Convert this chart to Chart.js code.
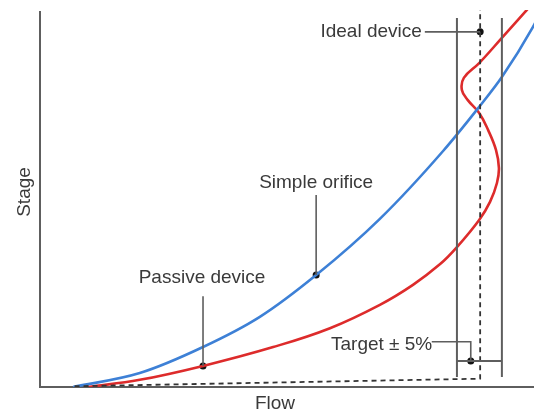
<!DOCTYPE html>
<html>
<head>
<meta charset="utf-8">
<script src="https://cdn.jsdelivr.net/npm/chart.js@4.4.6/dist/chart.umd.js"></script>
<style>
  html, body { margin: 0; padding: 0; background: #fff; }
  #wrap { width: 534px; height: 414px; position: relative; }
</style>
</head>
<body>
<div id="wrap"><canvas id="stageChart"></canvas></div>
<script>
// Values (flow and stage both on a 0-100 scale)
const orificeFlow = [6.7, 20.2, 33.0, 44.5, 55.9, 68.8, 81.6, 88.9, 93.5, 99.8, 101.2];
const orificeStage = [0, 3.7, 10.6, 18.6, 29.7, 44.6, 62.6, 74.3, 82.2, 95.5, 99.1];

const passiveFlow = [9.7, 20.2, 33.0, 47.2, 58.7, 68.8, 75.5, 81.0, 84.4, 88.9, 91.1, 92.5, 92.9, 92.3, 90.7, 88.9, 86.6, 85.4, 85.8, 88.9, 93.5, 98.2, 100.2];
const passiveStage = [0, 1.9, 5.6, 10.6, 15.6, 21.8, 27.1, 32.6, 37.1, 44.3, 49.1, 54.1, 58.1, 62.9, 68.2, 72.7, 76.1, 78.8, 82.0, 85.9, 92.6, 99.5, 102.5];

const idealFlow = [7.0, 89.1, 89.1];
const idealStage = [0.2, 2.2, 101];

const bandFlow = [84.4, 93.5];      // target -5% / +5%
const bandStage = [2.65, 97.9];
const targetFlow = 87.2;
const targetStage = 6.9;

const labels = ['Ideal device', 'Simple orifice', 'Passive device', 'Target \u00b1 5%'];
const labelFlow = [77.3, 55.9, 32.8, 79.4];
const labelStage = [94.2, 54.1, 28.9, 11.1];
const labelAlign = ['right', 'center', 'center', 'right'];

const markerFlow = [89.1, 55.9, 33.0, targetFlow];
const markerStage = [94.2, 29.7, 5.6, targetStage];

const ink = '#3a3a3a';
const rule = '#5e5e5e';
const blue = '#3d80d6';
const red = '#dd2b2b';
const font = '"Liberation Sans", Arial, sans-serif';

const pts = (xs, ys) => xs.map((x, i) => ({ x, y: ys[i] }));

const line = (data, color, width, extra = {}) => ({
  data,
  showLine: true,
  borderColor: color,
  borderWidth: width,
  pointRadius: 0,
  tension: 0,
  fill: false,
  ...extra
});

const datasets = [
  // target band
  line(pts([bandFlow[0], bandFlow[0]], bandStage), rule, 2),
  line(pts([bandFlow[1], bandFlow[1]], bandStage), rule, 2),
  line(pts(bandFlow, [targetStage, targetStage]), rule, 2),
  // leaders
  line(pts([77.9, markerFlow[0]], [labelStage[0], markerStage[0]]), rule, 1.6),
  line(pts([markerFlow[1], markerFlow[1]], [50.9, markerStage[1]]), rule, 1.6),
  line(pts([markerFlow[2], markerFlow[2]], [24.1, markerStage[2]]), rule, 1.6),
  line(pts([79.3, targetFlow, targetFlow], [12.0, 12.0, targetStage]), rule, 1.6),
  // ideal device
  line(pts(idealFlow, idealStage), '#333', 1.8, { borderDash: [5, 4] }),
  // curves
  line(pts(orificeFlow, orificeStage), blue, 2.6, { cubicInterpolationMode: 'monotone' }),
  line(pts(passiveFlow, passiveStage), red, 2.6, { tension: 0.4 }),
  // markers
  {
    data: pts(markerFlow, markerStage),
    showLine: false,
    pointRadius: 3.5,
    pointBackgroundColor: '#111',
    pointBorderWidth: 0
  }
];

const decor = {
  id: 'decor',
  beforeDatasetsDraw(chart) {
    const { ctx, chartArea: a } = chart;
    ctx.save();
    ctx.strokeStyle = rule;
    ctx.lineWidth = 2;
    ctx.beginPath();
    ctx.moveTo(a.left, a.top + 1);
    ctx.lineTo(a.left, a.bottom);
    ctx.lineTo(a.right, a.bottom);
    ctx.stroke();

    ctx.fillStyle = ink;
    ctx.font = `19px ${font}`;
    ctx.textBaseline = 'middle';
    ctx.textAlign = 'center';
    ctx.fillText('Flow', 275, 404);
    ctx.translate(25, 192);
    ctx.rotate(-Math.PI / 2);
    ctx.fillText('Stage', 0, 0);
    ctx.restore();
  },
  afterDatasetsDraw(chart) {
    const { ctx, scales: { x, y } } = chart;
    ctx.save();
    ctx.fillStyle = ink;
    ctx.font = `19px ${font}`;
    ctx.textBaseline = 'middle';
    labels.forEach((text, i) => {
      ctx.textAlign = labelAlign[i];
      ctx.fillText(text, x.getPixelForValue(labelFlow[i]), y.getPixelForValue(labelStage[i]));
    });
    ctx.restore();
  }
};

new Chart(document.getElementById('stageChart'), {
  type: 'scatter',
  data: { datasets },
  options: {
    responsive: true,
    maintainAspectRatio: false,
    animation: false,
    layout: { autoPadding: false, padding: { left: 40, right: 0, top: 10, bottom: 27 } },
    scales: {
      x: { type: 'linear', min: 0, max: 100, display: false },
      y: { type: 'linear', min: 0, max: 100, display: false }
    },
    plugins: {
      legend: { display: false },
      tooltip: { enabled: false }
    }
  },
  plugins: [decor]
});
</script>
</body>
</html>
